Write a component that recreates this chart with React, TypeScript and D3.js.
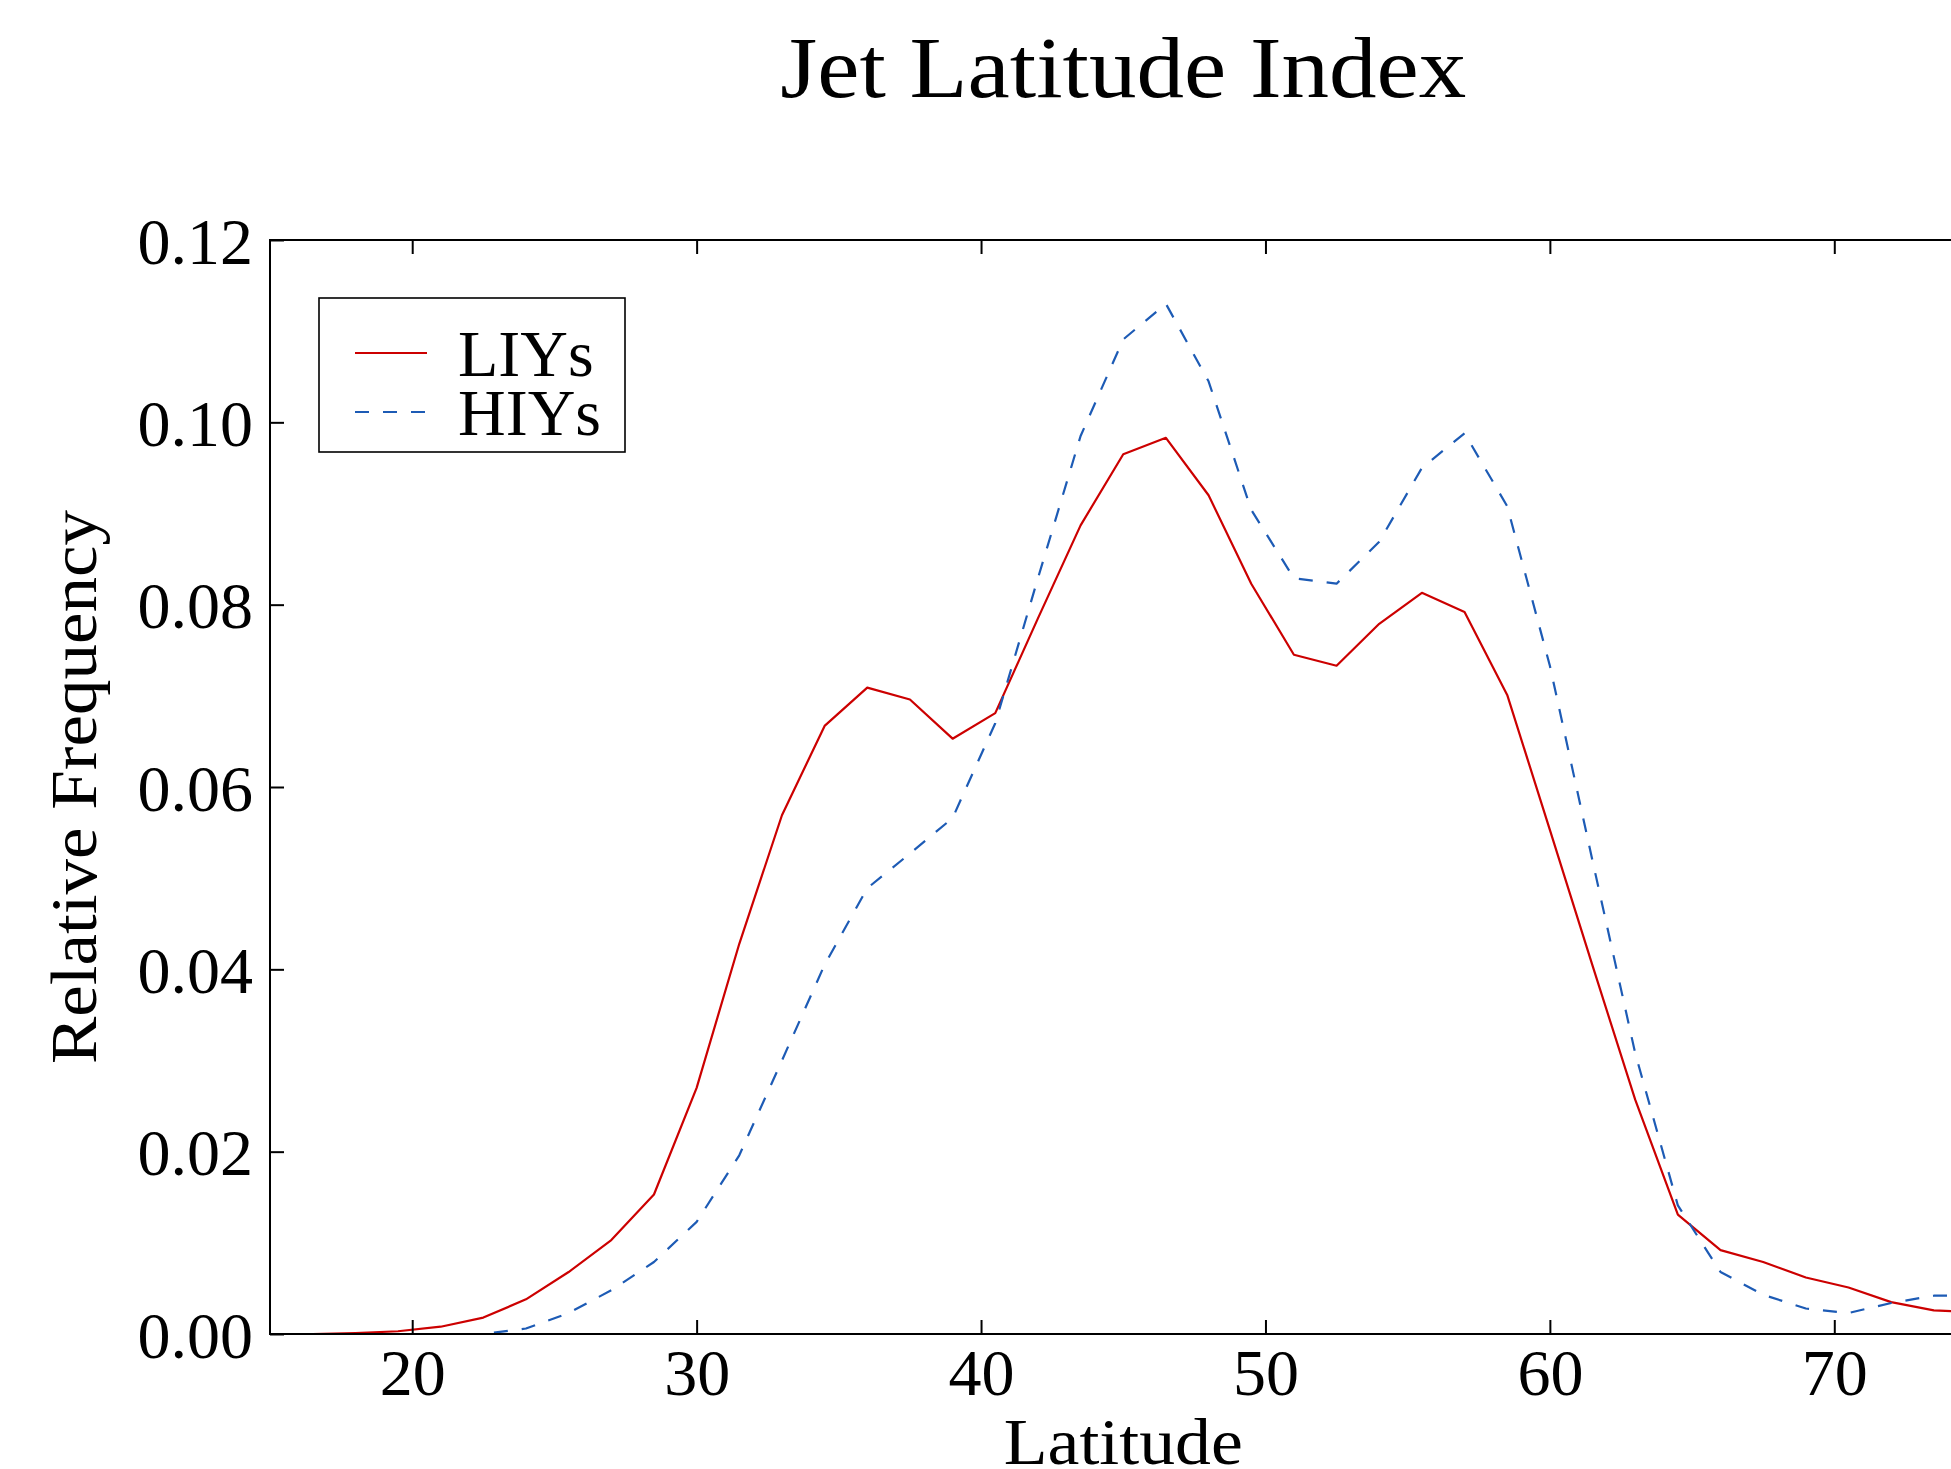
import { useRef, useEffect } from 'react';
import * as d3 from 'd3';

const WIDTH = 1951;
const HEIGHT = 1469;
// axes box; the right edge sits just past the canvas, as in the reference
const BOX = { left: 270, right: 1976.5, top: 240, bottom: 1334 };
const FONT = '"Liberation Serif", "Times New Roman", serif';

const latitudes = [
  15, 16.5, 18, 19.5, 21, 22.5, 24, 25.5, 27, 28.5,
  30, 31.5, 33, 34.5, 36, 37.5, 39, 40.5, 42, 43.5,
  45, 46.5, 48, 49.5, 51, 52.5, 54, 55.5, 57, 58.5,
  60, 61.5, 63, 64.5, 66, 67.5, 69, 70.5, 72, 73.5, 75,
];

const liys = [
  0, 0, 0.0001, 0.0003, 0.0008, 0.0018, 0.0038, 0.0068, 0.0103, 0.0153,
  0.027, 0.0428, 0.0569, 0.0667, 0.0709, 0.0696, 0.0653, 0.0681, 0.0785, 0.0887,
  0.0965, 0.0983, 0.092, 0.0823, 0.0745, 0.0733, 0.0779, 0.0813, 0.0792, 0.0701,
  0.0553, 0.0404, 0.0257, 0.0131, 0.0092, 0.0079, 0.0062, 0.0051, 0.0035, 0.0026, 0.0024,
];

const hiys = [
  0, 0, 0, 0, 0, 0, 0.0006, 0.0023, 0.0048, 0.0079,
  0.0123, 0.0196, 0.03, 0.0405, 0.0489, 0.0527, 0.0566, 0.067, 0.0829, 0.0985,
  0.1091, 0.113, 0.1045, 0.0904, 0.0829, 0.0823, 0.0869, 0.095, 0.0988, 0.0908,
  0.0733, 0.0519, 0.0308, 0.0141, 0.0068, 0.0043, 0.0028, 0.0023, 0.0034, 0.0042, 0.0042,
];

const xTicks = [20, 30, 40, 50, 60, 70];
const yTicks = [0, 0.02, 0.04, 0.06, 0.08, 0.1, 0.12];

const series = [
  { name: 'LIYs', values: liys, color: '#cc0000', dash: null },
  { name: 'HIYs', values: hiys, color: '#1d5bb5', dash: '14,14' },
];

export default function App() {
  const svgRef = useRef<SVGSVGElement>(null);

  useEffect(() => {
    const svg = d3.select(svgRef.current);
    svg.selectAll('*').remove();

    const x = d3.scaleLinear().domain([15, 75]).range([BOX.left, BOX.right]);
    const y = d3.scaleLinear().domain([0, 0.12]).range([BOX.bottom, BOX.top]);

    // Title
    svg.append('text')
      .attr('x', (BOX.left + BOX.right) / 2).attr('y', 97)
      .attr('text-anchor', 'middle')
      .attr('font-family', FONT).attr('font-size', 86)
      .attr('textLength', 686).attr('lengthAdjust', 'spacingAndGlyphs')
      .text('Jet Latitude Index');

    // Lines
    const line = d3.line<number>()
      .x((_, i) => x(latitudes[i]))
      .y(d => y(d));

    series.forEach(s => {
      svg.append('path')
        .datum(s.values)
        .attr('d', line)
        .attr('fill', 'none')
        .attr('stroke', s.color)
        .attr('stroke-width', 2.2)
        .attr('stroke-dasharray', s.dash)
        .attr('stroke-linejoin', 'round');
    });

    // Frame
    svg.append('rect')
      .attr('x', BOX.left).attr('y', BOX.top)
      .attr('width', BOX.right - BOX.left).attr('height', BOX.bottom - BOX.top)
      .attr('fill', 'none').attr('stroke', '#000').attr('stroke-width', 2);

    const styleAxis = (g: any) => {
      g.select('.domain').remove();
      g.selectAll('.tick line').attr('stroke', '#000').attr('stroke-width', 2);
      g.selectAll('.tick text')
        .attr('font-family', FONT).attr('font-size', 66).attr('fill', '#000');
    };

    // Bottom axis (inward ticks)
    const gx = svg.append('g').attr('transform', `translate(0,${BOX.bottom})`)
      .call(d3.axisBottom(x).tickValues(xTicks).tickSize(-14).tickSizeOuter(0)
        .tickFormat(d3.format('d')));
    styleAxis(gx);
    gx.selectAll('.tick text').attr('y', 61).attr('dy', 0);

    // Top ticks
    const gt = svg.append('g').attr('transform', `translate(0,${BOX.top})`)
      .call(d3.axisTop(x).tickValues(xTicks).tickSize(-14).tickSizeOuter(0)
        .tickFormat(() => ''));
    styleAxis(gt);

    // Left axis
    const gy = svg.append('g').attr('transform', `translate(${BOX.left},0)`)
      .call(d3.axisLeft(y).tickValues(yTicks).tickSize(-14).tickSizeOuter(0)
        .tickPadding(17).tickFormat(d3.format('.2f')));
    styleAxis(gy);
    gy.selectAll('.tick text').attr('dy', '0.35em');

    // Axis labels
    svg.append('text')
      .attr('x', (BOX.left + BOX.right) / 2).attr('y', 1464)
      .attr('text-anchor', 'middle')
      .attr('font-family', FONT).attr('font-size', 66)
      .attr('textLength', 239).attr('lengthAdjust', 'spacingAndGlyphs')
      .text('Latitude');

    svg.append('text')
      .attr('transform', `translate(96,${(BOX.top + BOX.bottom) / 2}) rotate(-90)`)
      .attr('text-anchor', 'middle')
      .attr('font-family', FONT).attr('font-size', 66)
      .attr('textLength', 554).attr('lengthAdjust', 'spacingAndGlyphs')
      .text('Relative Frequency');

    // Legend
    const lg = svg.append('g');
    lg.append('rect')
      .attr('x', 319).attr('y', 298).attr('width', 306).attr('height', 154)
      .attr('fill', '#fff').attr('stroke', '#000').attr('stroke-width', 1.6);
    series.forEach((s, i) => {
      const ly = 353 + i * 59;
      lg.append('line')
        .attr('x1', 355).attr('x2', 427).attr('y1', ly).attr('y2', ly)
        .attr('stroke', s.color).attr('stroke-width', 2.2)
        .attr('stroke-dasharray', s.dash);
      lg.append('text')
        .attr('x', 458).attr('y', ly + 23)
        .attr('font-family', FONT).attr('font-size', 66)
        .text(s.name);
    });
  }, []);

  return (
    <svg
      ref={svgRef}
      width={WIDTH}
      height={HEIGHT}
      style={{ position: 'absolute', left: 0, top: 0, background: '#fff' }}
    />
  );
}
